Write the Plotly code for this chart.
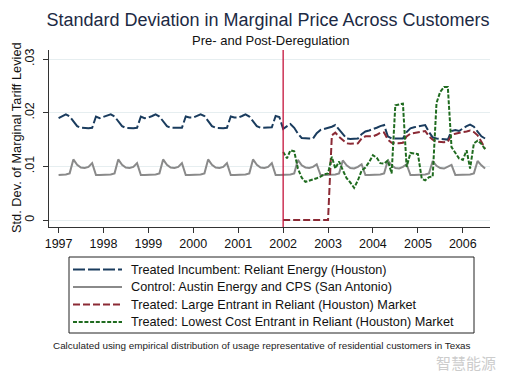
import pandas as pd
import plotly.graph_objects as go

# ---------------- data (values in units of 0.001) ----------------
months_all = pd.date_range("1997-01-01", "2006-07-01", freq="MS")
months_post = pd.date_range("2002-01-01", "2006-07-01", freq="MS")

incumbent = [
    19.0, 19.3, 19.7, 19.3, 18.4, 17.5, 17.2, 17.1, 17.1, 17.2, 19.3, 19.0,   # 1997
    19.2, 19.4, 19.7, 19.3, 18.4, 17.5, 17.2, 17.1, 17.1, 17.2, 19.3, 19.0,   # 1998
    19.1, 19.4, 19.7, 19.3, 18.4, 17.5, 17.2, 17.2, 17.1, 17.2, 19.3, 19.1,   # 1999
    19.1, 19.4, 19.7, 19.4, 18.5, 17.5, 17.2, 17.1, 17.1, 17.2, 19.3, 19.1,   # 2000
    19.1, 19.4, 19.7, 19.3, 18.4, 17.5, 17.2, 17.2, 17.2, 17.3, 19.4, 19.2,   # 2001
    17.0, 17.4, 17.9, 17.2, 16.1, 15.3, 15.2, 15.2, 15.2, 16.2, 16.8, 17.0,   # 2002
    17.1, 17.4, 17.7, 16.9, 16.1, 15.2, 15.1, 15.1, 15.2, 16.0, 16.5, 16.7,   # 2003
    16.9, 17.2, 17.5, 17.7, 15.6, 15.2, 15.2, 15.2, 15.2, 16.4, 17.1, 17.3,   # 2004
    17.4, 17.5, 17.7, 16.4, 15.4, 15.2, 15.1, 15.0, 15.0, 16.6, 16.8, 16.6,   # 2005
    17.1, 17.5, 17.8, 17.4, 16.5, 15.6, 15.2,                                 # 2006
]

control = [
    8.4, 8.4, 8.5, 8.7, 11.3, 10.3, 9.8, 9.7, 9.9, 10.6, 8.4, 8.4,   # 1997
    8.4, 8.4, 8.5, 8.7, 11.3, 10.3, 9.8, 9.7, 9.9, 10.6, 8.4, 8.4,   # 1998
    8.4, 8.4, 8.5, 8.7, 11.3, 10.3, 9.8, 9.7, 9.9, 10.6, 8.4, 8.4,   # 1999
    8.4, 8.4, 8.5, 8.7, 11.3, 10.3, 9.8, 9.7, 9.9, 10.6, 8.4, 8.4,   # 2000
    8.4, 8.4, 8.5, 8.7, 11.3, 10.3, 9.8, 9.7, 9.9, 10.6, 8.4, 8.4,   # 2001
    8.4, 8.4, 8.5, 8.7, 11.2, 10.2, 9.8, 9.7, 9.9, 10.4, 8.4, 8.4,   # 2002
    8.4, 8.4, 8.5, 8.7, 11.1, 10.2, 9.7, 9.6, 9.9, 10.4, 8.4, 8.4,   # 2003
    8.4, 8.4, 8.5, 8.7, 11.1, 10.2, 9.7, 9.6, 9.9, 10.4, 8.4, 8.4,   # 2004
    8.4, 8.4, 8.5, 8.7, 11.0, 10.1, 9.7, 9.6, 9.9, 10.3, 8.4, 8.4,   # 2005
    8.4, 8.4, 8.5, 8.7, 11.0, 10.2, 9.6,                             # 2006
]

large_entrant = [
    0.0, 0.0, 0.0, 0.0, 0.0, 0.0, 0.0, 0.0, 0.0, 0.0, 0.0, 0.0,          # 2002
    0.0, 15.8, 16.3, 15.5, 14.9, 14.3, 14.2, 14.2, 14.3, 15.2, 15.6, 15.6,  # 2003
    15.6, 15.9, 16.3, 16.3, 15.0, 14.4, 14.3, 14.3, 14.4, 15.6, 16.1, 16.2, # 2004
    16.3, 16.5, 16.6, 15.6, 15.0, 14.6, 14.5, 14.5, 14.6, 15.9, 16.1, 16.3, # 2005
    16.4, 16.5, 16.7, 16.4, 15.8, 14.6, 13.3,                               # 2006
]

lowest_cost = [
    12.7, 11.5, 13.0, 12.8, 9.6, 7.9, 7.1, 7.3, 7.6, 7.8, 8.1, 8.5,        # 2002
    8.7, 11.8, 9.6, 10.9, 9.3, 7.8, 7.0, 6.0, 7.4, 9.2, 9.8, 10.8,          # 2003
    12.1, 11.6, 10.6, 10.5, 11.1, 8.7, 21.4, 21.6, 21.7, 9.9, 12.5, 12.4,  # 2004
    12.3, 7.7, 7.4, 8.0, 8.1, 21.8, 23.9, 24.8, 24.8, 13.6, 12.4, 11.5,    # 2005
    11.2, 13.0, 9.6, 14.3, 14.8, 14.2, 13.2,                                # 2006
]

series_names = [
    "Treated Incumbent: Reliant Energy (Houston)",
    "Control: Austin Energy and CPS (San Antonio)",
    "Treated: Large Entrant in Reliant (Houston) Market",
    "Treated: Lowest Cost Entrant in Reliant (Houston) Market",
]
year_ticks = [str(y) for y in range(1997, 2007)]
y_tick_vals = [0, 0.01, 0.02, 0.03]
y_tick_text = ["0", ".01", ".02", ".03"]
deregulation_date = "2002-01-01"

# ---------------- styling ----------------
FONT = "Liberation Sans, Arial, sans-serif"
scale = 0.001
W, H = 514, 382
ML, MR, MT, MB = 49, 24, 50, 155
PW, PH = W - ML - MR, H - MT - MB

def px(xpix):
    return (xpix - ML) / PW

def py(ypix):
    return (H - MB - ypix) / PH

styles = [
    dict(color="#1a3c5e", width=2, dash="12px,3px"),
    dict(color="#8a8a8a", width=2),
    dict(color="#8b2a35", width=2, dash="7px,3px"),
    dict(color="#1f6b1f", width=2, dash="4px,1.7px"),
]

fig = go.Figure()
fig.add_trace(go.Scatter(x=months_all, y=[v * scale for v in incumbent], mode="lines",
                         name=series_names[0], line=styles[0]))
fig.add_trace(go.Scatter(x=months_all, y=[v * scale for v in control], mode="lines",
                         name=series_names[1], line=styles[1]))
fig.add_trace(go.Scatter(x=months_post, y=[v * scale for v in large_entrant], mode="lines",
                         name=series_names[2], line=styles[2]))
fig.add_trace(go.Scatter(x=months_post, y=[v * scale for v in lowest_cost], mode="lines",
                         name=series_names[3], line=styles[3]))

fig.add_shape(type="line", xref="x", yref="paper", x0=deregulation_date, x1=deregulation_date,
              y0=0, y1=1, line=dict(color="#c4123a", width=1.3), layer="above")

# legend box (drawn below the plot, styled like the original)
fig.add_shape(type="rect", xref="paper", yref="paper", x0=px(69), x1=px(474), y0=py(257), y1=py(333),
              line=dict(color="#222222", width=1), fillcolor="white")
annotations = []
row_y = [269.5, 287, 304.5, 322]
for name, st, ry in zip(series_names, styles, row_y):
    fig.add_shape(type="line", xref="paper", yref="paper", x0=px(73), x1=px(122), y0=py(ry), y1=py(ry),
                  line=st)
    annotations.append(dict(text=name, xref="paper", yref="paper", x=px(129), y=py(ry),
                            xanchor="left", yanchor="middle", showarrow=False,
                            font=dict(size=12.7, family=FONT, color="#111111")))

annotations += [
    dict(text="Pre- and Post-Deregulation", xref="paper", yref="paper",
         x=px(271), y=py(41), xanchor="center", yanchor="middle",
         showarrow=False, font=dict(size=13, family=FONT, color="#111111")),
    dict(text="Std. Dev. of Marginal Tariff Levied", xref="paper", yref="paper",
         x=px(16), y=py(138), xanchor="center", yanchor="middle", textangle=-90,
         showarrow=False, font=dict(size=12.8, family=FONT, color="#111111")),
    dict(text="Calculated using empirical distribution of usage representative of residential customers in Texas",
         xref="paper", yref="paper", x=px(261.5), y=py(345),
         xanchor="center", yanchor="middle", showarrow=False,
         font=dict(size=9.9, family=FONT, color="#222222")),
    dict(text="智慧能源", xref="paper", yref="paper", x=px(498), y=py(362),
         xanchor="right", yanchor="middle", showarrow=False,
         font=dict(size=15, family="Noto Sans CJK SC", color="#cccccc")),
]

fig.update_layout(
    width=W, height=H,
    margin=dict(l=ML, r=MR, t=MT, b=MB, autoexpand=False),
    paper_bgcolor="white", plot_bgcolor="white",
    font=dict(family=FONT, color="#111111"),
    title=dict(text="Standard Deviation in Marginal Price Across Customers",
               x=268 / W, xanchor="center", y=1 - 20 / H, yanchor="middle", yref="container",
               font=dict(size=18, color="#1c2a44", family=FONT)),
    showlegend=False,
    xaxis=dict(type="date", range=["1996-10-15", "2006-08-10"], automargin=False,
               tickvals=[f"{y}-01-01" for y in year_ticks], ticktext=year_ticks,
               showgrid=False, zeroline=False, showline=True, linecolor="#333333", linewidth=1,
               ticks="outside", ticklen=5, tickcolor="#333333",
               tickfont=dict(size=12.5, family=FONT, color="#111111")),
    yaxis=dict(range=[-0.0013, 0.0317], tickvals=y_tick_vals, ticktext=y_tick_text, automargin=False,
               tickangle=-90, showgrid=True, gridcolor="#e6eef0", gridwidth=1,
               zeroline=False, showline=True, linecolor="#333333", linewidth=1,
               ticks="outside", ticklen=5, tickcolor="#333333", ticklabelstandoff=4,
               tickfont=dict(size=12.5, family=FONT, color="#111111")),
    annotations=annotations,
)

fig.write_html("out.html", config={"displayModeBar": False},
               post_script="document.body.style.margin='0px';")
